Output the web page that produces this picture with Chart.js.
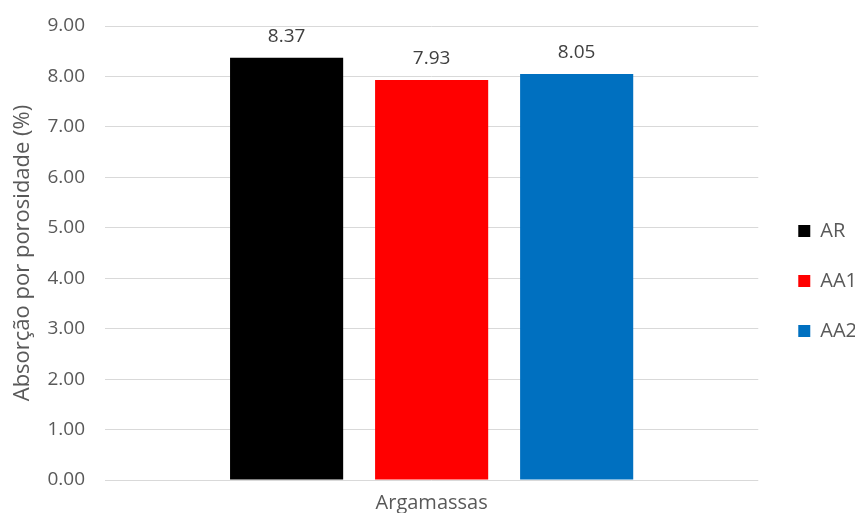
<!DOCTYPE html>
<html lang="pt">
<head>
    <meta charset="UTF-8">
    <title>Absorção por porosidade</title>
    <script src="https://cdn.jsdelivr.net/npm/chart.js"></script>
    <style>
        body {
            margin: 0;
            padding: 0;
            background: #ffffff;
        }
        .chart-box {
            width: 855px;
            height: 513px;
        }
    </style>
</head>
<body>
    <div class="chart-box">
        <canvas id="absChart"></canvas>
    </div>

    <script>
        // Chart data
        const categories = ['Argamassas'];
        const seriesNames = ['AR', 'AA1', 'AA2'];
        const seriesValues = [[8.37], [7.93], [8.05]];
        const seriesColors = ['#000000', '#ff0000', '#0070c0'];
        const yTicks = [0, 1, 2, 3, 4, 5, 6, 7, 8, 9];

        const fontFamily = "'Open Sans', sans-serif";

        // Value labels above each bar
        const valueLabels = {
            id: 'valueLabels',
            afterDatasetsDraw(chart) {
                const ctx = chart.ctx;
                ctx.save();
                ctx.font = '19px ' + fontFamily;
                ctx.fillStyle = '#404040';
                ctx.textAlign = 'center';
                ctx.textBaseline = 'alphabetic';
                chart.data.datasets.forEach((ds, i) => {
                    chart.getDatasetMeta(i).data.forEach((bar, j) => {
                        ctx.fillText(ds.data[j].toFixed(2), bar.x, bar.y - 16);
                    });
                });
                ctx.restore();
            }
        };

        // nudge the legend a bit to the right, away from the plot
        const legendShift = {
            id: 'legendShift',
            afterLayout(chart) {
                chart.legend.left += 10;
                chart.legend.right += 10;
            }
        };

        const ctx = document.getElementById('absChart').getContext('2d');
        new Chart(ctx, {
            type: 'bar',
            data: {
                labels: categories,
                datasets: seriesNames.map((name, i) => ({
                    label: name,
                    data: seriesValues[i],
                    backgroundColor: seriesColors[i],
                    borderWidth: 0,
                    categoryPercentage: 0.666,
                    barPercentage: 0.78
                }))
            },
            options: {
                responsive: true,
                maintainAspectRatio: false,
                animation: false,
                layout: {
                    padding: { top: 26, right: -2, bottom: 0, left: 0 }
                },
                plugins: {
                    legend: {
                        position: 'right',
                        title: {
                            display: true,
                            text: ' ',
                            font: { size: 10 },
                            padding: 5.5
                        },
                        labels: {
                            boxWidth: 12,
                            boxHeight: 12,
                            padding: 30,
                            color: '#595959',
                            font: { family: fontFamily, size: 20 }
                        }
                    },
                    tooltip: { enabled: false }
                },
                scales: {
                    x: {
                        grid: { display: false },
                        border: { display: false },
                        ticks: {
                            color: '#595959',
                            padding: 3,
                            font: { family: fontFamily, size: 20 }
                        },
                        afterFit: s => { s.height = 33; }
                    },
                    y: {
                        min: 0,
                        max: 9,
                        afterBuildTicks: s => { s.ticks = yTicks.map(v => ({ value: v })); },
                        grid: {
                            color: '#d9d9d9',
                            lineWidth: 1,
                            drawTicks: false
                        },
                        border: { display: false },
                        ticks: {
                            color: '#595959',
                            padding: 20,
                            font: { family: fontFamily, size: 19 },
                            callback: v => Number(v).toFixed(2)
                        },
                        title: {
                            display: true,
                            text: 'Absorção por porosidade (%)',
                            color: '#595959',
                            padding: { top: 10, bottom: 0 },
                            font: { family: fontFamily, size: 22 }
                        },
                        afterFit: s => {
                            s.width = 105;
                            s.paddingTop = 12;
                            s.paddingBottom = 12;
                        }
                    }
                }
            },
            plugins: [valueLabels, legendShift]
        });
    </script>
</body>
</html>
